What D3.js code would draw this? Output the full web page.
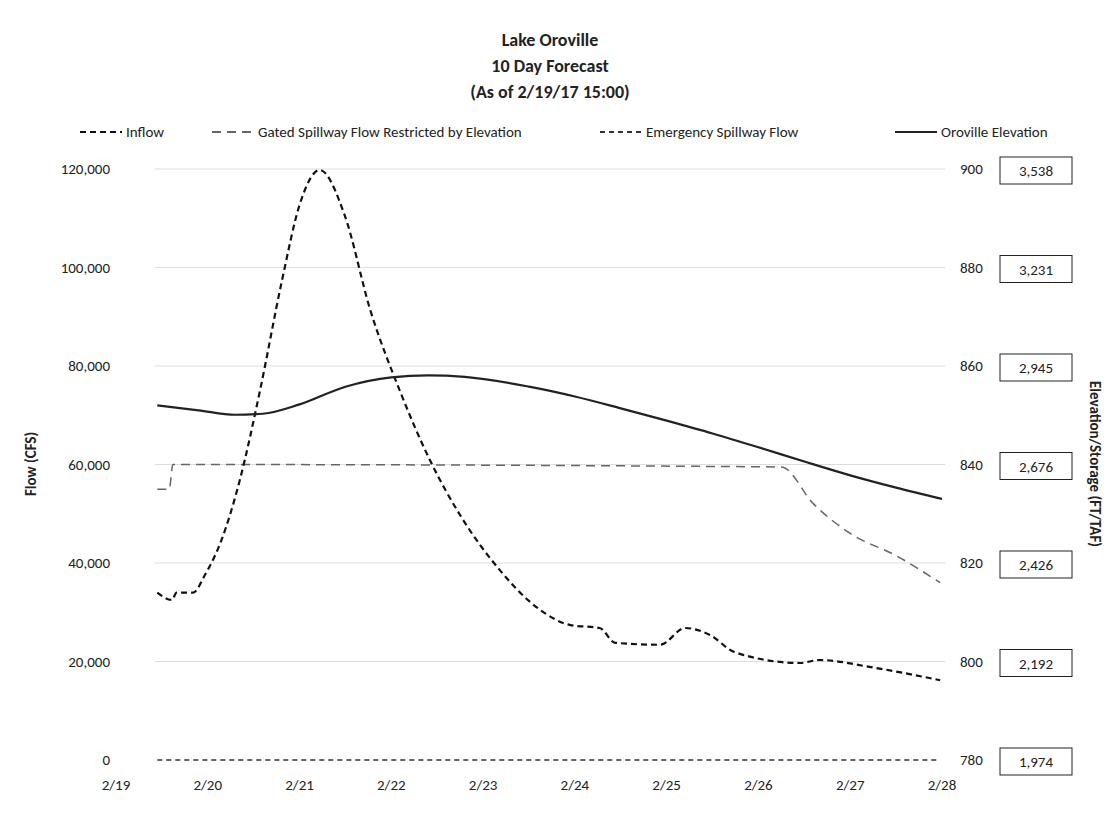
<!DOCTYPE html><html><head><meta charset="utf-8"><script src="https://cdn.jsdelivr.net/npm/d3@7"></script>
<style>body{margin:0;background:#fff;font-family:Calibri,Carlito,"Open Sans",sans-serif}</style></head><body><svg id="c" width="1104" height="829"></svg>
<script>
const dates=["2/19","2/20","2/21","2/22","2/23","2/24","2/25","2/26","2/27","2/28"];
const flowTicks=[0,20000,40000,60000,80000,100000,120000];
const elevTicks=[780,800,820,840,860,880,900];
const storage=["1,974","2,192","2,426","2,676","2,945","3,231","3,538"];
const inflowDay=[0.45,0.61,0.66,0.84,0.97,1.15,1.35,1.57,1.81,2.0,2.22,2.49,2.77,3.09,3.42,3.75,4.18,4.62,4.95,5.27,5.44,5.93,6.2,6.47,6.74,7.45,7.67,8.21,8.98];
const inflow=[34000,32500,34000,34000,37600,44700,56900,75100,97500,112700,119800,110700,91400,75100,60900,49700,38600,30500,27400,26800,23800,23400,26800,25400,21900,19700,20300,18900,16200];
const gatedDay=[0.45,0.58,0.62,7.25,7.6,8.0,8.5,8.98];
const gated=[55000,55000,60000,59500,52000,46000,41500,36000];
const emergDay=[0.45,8.98];
const emerg=[0,0];
const elevDay=[0.45,0.9,1.3,1.6,2.0,2.5,3.0,3.4,3.8,4.5,5.0,5.5,6.0,6.5,7.0,7.5,8.0,8.5,9.0];
const elev=[852,851,850.1,850.3,852.2,855.8,857.7,858.1,857.8,855.8,853.8,851.4,848.9,846.3,843.5,840.6,837.8,835.3,833];
const svg=d3.select("#c");
const x=d3.scaleLinear().domain([0,9]).range([116,942]);
const y=d3.scaleLinear().domain([0,120000]).range([760,169]);
const y2=d3.scaleLinear().domain([780,900]).range([760,169]);
const t="#222", fs=15;
flowTicks.slice(1).forEach(v=>svg.append("line").attr("x1",155).attr("x2",945).attr("y1",y(v)).attr("y2",y(v)).attr("stroke","#ddd"));
svg.selectAll(".yl").data(flowTicks).join("text").attr("x",110).attr("y",d=>y(d)+5).attr("text-anchor","end").attr("font-size",fs).attr("fill",t).text(d=>d3.format(",")(d));
svg.selectAll(".xl").data(dates).join("text").attr("x",(d,i)=>x(i)).attr("y",790).attr("text-anchor","middle").attr("font-size",fs).attr("fill",t).text(d=>d);
svg.selectAll(".rl").data(elevTicks).join("text").attr("x",960).attr("y",d=>y2(d)+5).attr("font-size",fs).attr("fill",t).text(d=>d);
elevTicks.forEach((v,i)=>{const g=svg.append("g").attr("transform",`translate(1000,${y2(v)-12})`);
g.append("rect").attr("width",72).attr("height",27).attr("fill","none").attr("stroke","#222");
g.append("text").attr("x",36).attr("y",19).attr("text-anchor","middle").attr("font-size",fs).attr("fill",t).text(storage[i]);});
const ln=(X,Y,ys)=>d3.line().x((d,i)=>x(X[i])).y(d=>ys(d)).curve(d3.curveMonotoneX)(Y);
svg.append("path").attr("d",ln(emergDay,emerg,y)).attr("fill","none").attr("stroke","#333").attr("stroke-width",1.5).attr("stroke-dasharray","5,4");
svg.append("path").attr("d",ln(gatedDay,gated,y)).attr("fill","none").attr("stroke","#666").attr("stroke-width",1.5).attr("stroke-dasharray","9,6");
svg.append("path").attr("d",ln(inflowDay,inflow,y)).attr("fill","none").attr("stroke","#111").attr("stroke-width",2.2).attr("stroke-dasharray","6,4");
svg.append("path").attr("d",ln(elevDay,elev,y2)).attr("fill","none").attr("stroke","#222").attr("stroke-width",2.2);
["Lake Oroville","10 Day Forecast","(As of 2/19/17 15:00)"].forEach((s,i)=>svg.append("text").attr("x",550).attr("y",46+i*26).attr("text-anchor","middle").attr("font-size",18).attr("font-weight","bold").attr("fill",t).text(s));
const leg=[[80,"6,4","#111","Inflow"],[212,"9,6","#666","Gated Spillway Flow Restricted by Elevation"],[600,"5,4","#333","Emergency Spillway Flow"],[895,null,"#222","Oroville Elevation"]];
leg.forEach(([lx,da,c,s])=>{svg.append("line").attr("x1",lx).attr("x2",lx+42).attr("y1",132).attr("y2",132).attr("stroke",c).attr("stroke-width",2).attr("stroke-dasharray",da);
svg.append("text").attr("x",lx+46).attr("y",137).attr("font-size",fs).attr("fill",t).text(s);});
svg.append("text").attr("transform","translate(36,464) rotate(-90)").attr("text-anchor","middle").attr("font-size",fs).attr("font-weight","bold").attr("fill",t).text("Flow (CFS)");
svg.append("text").attr("transform","translate(1090,464) rotate(90)").attr("text-anchor","middle").attr("font-size",fs).attr("font-weight","bold").attr("fill",t).text("Elevation/Storage (FT/TAF)");
</script></body></html>
